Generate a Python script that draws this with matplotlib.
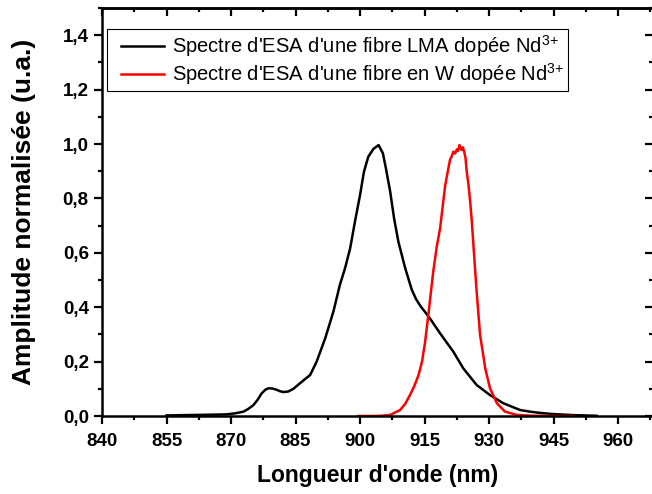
import matplotlib
matplotlib.use("Agg")
import matplotlib.pyplot as plt
from matplotlib.ticker import MultipleLocator
from matplotlib.lines import Line2D
from matplotlib.legend_handler import HandlerLine2D

plt.rcParams['font.family'] = ['Liberation Sans', 'DejaVu Sans']
plt.rcParams['mathtext.fontset'] = 'custom'
plt.rcParams['mathtext.rm'] = 'Liberation Sans'
plt.rcParams['mathtext.it'] = 'Liberation Sans'
plt.rcParams['mathtext.default'] = 'regular'

# LMA fibre ESA spectrum (black)
lma_nm = [855, 858, 862, 866, 869, 871, 872.9, 874, 875.2, 876.2, 877.1, 878, 878.7, 879.6,
          880.5, 881.4, 882.2, 883.3, 884.5, 886.0, 888.4, 889.9, 891.9, 893.8, 895.3,
          896.5, 897.7, 898.8, 900.0, 900.9, 901.9, 903.1, 904.3, 905.3, 906.0, 907.0,
          907.9, 908.9, 910.5, 912.0, 913.0, 914.0, 916.1, 918.6, 921.7, 924.0, 927.1, 930.2,
          933.3, 937.2, 939.5, 942, 945, 950, 955]
lma_val = [0.002, 0.003, 0.004, 0.005, 0.006, 0.01, 0.016, 0.026, 0.04, 0.06, 0.083, 0.097,
           0.102, 0.101, 0.097, 0.091, 0.088, 0.09, 0.1, 0.12, 0.151, 0.2, 0.286, 0.384,
           0.482, 0.543, 0.617, 0.714, 0.813, 0.898, 0.953, 0.982, 0.996, 0.966, 0.911,
           0.825, 0.727, 0.641, 0.543, 0.465, 0.43, 0.405, 0.362, 0.304, 0.236, 0.175, 0.114,
           0.077, 0.047, 0.022, 0.016, 0.011, 0.007, 0.003, 0.001]

# W fibre ESA spectrum (red)
w_nm = [899.6, 903, 905, 907.0, 909.3, 910.5, 911.6, 912.6, 913.6, 914.4, 915.1, 916.0,
        917.0, 917.8, 918.6, 919.2, 919.8, 920.4, 920.9, 921.3, 921.7, 922.1, 922.5, 922.8,
        923.1, 923.4, 923.6, 923.9, 924.2, 924.5, 924.8, 925.2, 925.6, 926.0, 926.4,
        927.1, 927.9, 929.1, 930.2, 931.8, 933.7, 936.4, 940, 945, 949.5]
w_val = [0.0, 0.0, 0.001, 0.004, 0.022, 0.045, 0.077, 0.11, 0.151, 0.2, 0.27, 0.39,
         0.53, 0.62, 0.69, 0.77, 0.849, 0.9, 0.941, 0.955, 0.972, 0.965, 0.98, 0.975,
         0.996, 0.985, 0.978, 0.988, 0.972, 0.95, 0.898, 0.85, 0.788, 0.71, 0.617,
         0.457, 0.298, 0.175, 0.102, 0.047, 0.016, 0.004, 0.001, 0.0, 0.0]

x_ticks = [840, 855, 870, 885, 900, 915, 930, 945, 960]
x_tick_labels = ['840', '855', '870', '885', '900', '915', '930', '945', '960']
y_ticks = [0.0, 0.2, 0.4, 0.6, 0.8, 1.0, 1.2, 1.4]
y_tick_labels = ['0,0', '0,2', '0,4', '0,6', '0,8', '1,0', '1,2', '1,4']

legend_labels = ["Spectre d'ESA d'une fibre LMA dopée Nd$^{3{+}}$",
                 "Spectre d'ESA d'une fibre en W dopée Nd$^{3{+}}$"]

fig = plt.figure(figsize=(6.52, 4.94), dpi=100)
ax = fig.add_axes([102/652, 78/494, 551/652, 408/494])

ax.plot(lma_nm, lma_val, color='black', lw=1.8, label=legend_labels[0])
ax.plot(w_nm, w_val, color='red', lw=1.8, label=legend_labels[1])

ax.set_xlim(840, 968.1)
ax.set_ylim(0, 1.5)
ax.set_xticks(x_ticks)
ax.set_xticklabels(x_tick_labels, fontsize=13.5, fontweight='bold')
ax.set_yticks(y_ticks)
ax.set_yticklabels(y_tick_labels, fontsize=13.5, fontweight='bold')
ax.xaxis.set_minor_locator(MultipleLocator(7.5))
ax.yaxis.set_minor_locator(MultipleLocator(0.1))

for s in ax.spines.values():
    s.set_linewidth(1.8)

ax.tick_params(which='major', direction='out', length=5.5, width=1.6)
ax.tick_params(which='minor', direction='out', length=3, width=1.6)
ax.tick_params(axis='x', which='major', pad=7)
ax.tick_params(axis='y', which='major', pad=4)

# top / right inward ticks
sx = ax.secondary_xaxis('top')
sx.set_xticks(x_ticks)
sx.xaxis.set_minor_locator(MultipleLocator(7.5))
sx.tick_params(which='major', direction='in', length=5.5, width=1.6, labeltop=False)
sx.tick_params(which='minor', direction='in', length=3, width=1.6)
sy = ax.secondary_yaxis('right')
sy.set_yticks(y_ticks)
sy.yaxis.set_minor_locator(MultipleLocator(0.1))
sy.tick_params(which='major', direction='in', length=5.5, width=1.6, labelright=False)
sy.tick_params(which='minor', direction='in', length=3, width=1.6)
for s in list(sx.spines.values()) + list(sy.spines.values()):
    s.set_linewidth(1.8)

ax.set_xlabel("Longueur d'onde (nm)", fontsize=16.5, fontweight='bold', labelpad=10)
ax.set_ylabel("Amplitude normalisée (u.a.)", fontsize=19, fontweight='bold', labelpad=19)

leg = ax.legend(loc='upper left', bbox_to_anchor=(0.0085, 0.948),
                prop={'size': 14.5, 'weight': 'normal'},
                handler_map={Line2D: HandlerLine2D(xpad=0.5)},
                frameon=True, fancybox=False, edgecolor='black', framealpha=1,
                handlelength=2.64, handletextpad=0.38, borderpad=0.2, labelspacing=0.12,
                borderaxespad=0)
leg.get_frame().set_linewidth(0.8)

fig.savefig("out.png", dpi=100)
